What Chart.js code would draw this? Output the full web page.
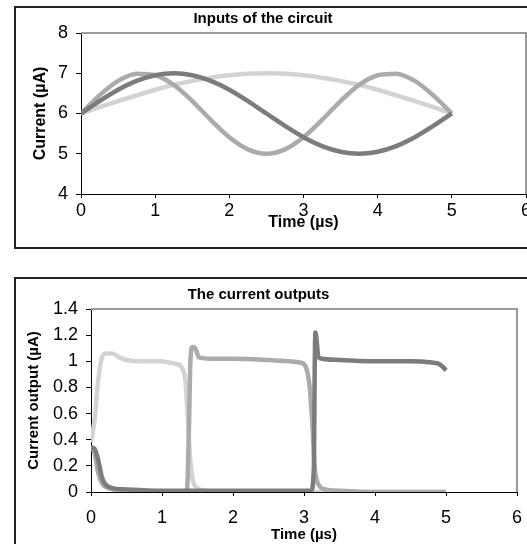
<!DOCTYPE html>
<html>
<head>
<meta charset="utf-8">
<script src="https://cdn.jsdelivr.net/npm/chart.js@4/dist/chart.umd.min.js"></script>
<style>
  html, body { margin: 0; padding: 0; background: #fff; overflow: hidden; width: 527px; height: 544px; }
  .box { position: absolute; border: 2px solid #222; background: #fff; }
  canvas { position: absolute; left: 0; }
</style>
</head>
<body>
<div class="box" style="left:14px; top:6px; width:560px; height:239px;"></div>
<div class="box" style="left:14px; top:277px; width:560px; height:300px;"></div>
<canvas id="inputs" width="560" height="250" style="top:0px"></canvas>
<canvas id="outputs" width="560" height="282" style="top:262px"></canvas>
<script>
// top chart: the three input currents
const timeIn = [0, 0.25, 0.5, 0.75, 1, 1.25, 1.5, 1.75, 2, 2.25, 2.5, 2.75, 3, 3.25, 3.5, 3.75, 4, 4.25, 4.5, 4.75, 5];
const darkIn = [6, 6.31, 6.59, 6.81, 6.95, 7, 6.95, 6.81, 6.59, 6.31, 6, 5.69, 5.41, 5.19, 5.05, 5, 5.05, 5.19, 5.41, 5.69, 6];
const midIn = [6, 6.45, 6.81, 6.99, 6.95, 6.71, 6.31, 5.84, 5.41, 5.11, 5, 5.11, 5.41, 5.84, 6.31, 6.71, 6.95, 6.99, 6.81, 6.45, 6];
const lightIn = [6, 6.16, 6.31, 6.45, 6.59, 6.71, 6.81, 6.89, 6.95, 6.99, 7, 6.99, 6.95, 6.89, 6.81, 6.71, 6.59, 6.45, 6.31, 6.16, 6];

// bottom chart: the current outputs
const tLightOut = [0, 0.05, 0.1, 0.15, 0.2, 0.3, 0.4, 0.5, 0.7, 1.0, 1.1, 1.2, 1.28, 1.33, 1.36, 1.39, 1.43, 1.5, 1.6, 2, 3, 4, 5];
const lightOut = [0.38, 0.55, 0.85, 1.02, 1.06, 1.06, 1.03, 1.01, 1.0, 1.0, 0.99, 0.98, 0.95, 0.85, 0.6, 0.3, 0.1, 0.03, 0.01, 0, 0, 0, 0];
const tMidOut = [0, 0.05, 0.1, 0.15, 0.2, 0.3, 0.5, 1.0, 1.35, 1.38, 1.4, 1.43, 1.47, 1.52, 1.7, 2.0, 2.5, 2.8, 2.95, 3.03, 3.08, 3.12, 3.15, 3.2, 3.3, 3.5, 4, 5];
const midOut = [0.35, 0.3, 0.15, 0.07, 0.04, 0.02, 0.01, 0, 0, 0.5, 1.0, 1.11, 1.1, 1.03, 1.02, 1.02, 1.01, 1.0, 0.99, 0.95, 0.8, 0.5, 0.2, 0.06, 0.02, 0.01, 0, 0];
const tDarkOut = [0, 0.05, 0.1, 0.15, 0.2, 0.3, 0.5, 1.0, 1.4, 3.1, 3.14, 3.15, 3.16, 3.18, 3.2, 3.25, 3.5, 4.0, 4.5, 4.8, 4.9, 4.95, 5.0];
const darkOut = [0.34, 0.33, 0.25, 0.12, 0.06, 0.03, 0.02, 0.01, 0.01, 0.01, 0.2, 0.9, 1.22, 1.15, 1.04, 1.02, 1.01, 1.0, 1.0, 0.99, 0.98, 0.96, 0.93];

const xTicks = [0, 1, 2, 3, 4, 5, 6];
const yTicksIn = [4, 5, 6, 7, 8];
const yTicksOut = [0, 0.2, 0.4, 0.6, 0.8, 1, 1.2, 1.4];

const FONT = "'Liberation Sans', Arial, sans-serif";
const DARK = '#7c7c7c', MID = '#ababab', LIGHT = '#d3d3d3';

function pts(xs, ys) {
    return xs.map((x, i) => ({ x: x, y: ys[i] }));
}

function line(data, color) {
    return {
        data: data,
        borderColor: color,
        borderWidth: 4.5,
        pointRadius: 0,
        showLine: true,
        cubicInterpolationMode: 'monotone'
    };
}

// gray top and right edges of the plot area, like the Excel frame
const frame = {
    id: 'frame',
    beforeDatasetsDraw(chart) {
        const a = chart.chartArea, ctx = chart.ctx;
        ctx.save();
        ctx.strokeStyle = '#9a9a9a';
        ctx.lineWidth = 2;
        ctx.beginPath();
        ctx.moveTo(a.left, a.top);
        ctx.lineTo(a.right, a.top);
        ctx.lineTo(a.right, a.bottom);
        ctx.stroke();
        ctx.restore();
    }
};

function makeChart(id, opt) {
    new Chart(document.getElementById(id), {
        type: 'scatter',
        data: { datasets: opt.datasets },
        options: {
            responsive: false,
            animation: false,
            devicePixelRatio: 1,
            layout: { padding: { left: 0, top: 0, right: opt.padRight, bottom: 0 } },
            plugins: {
                legend: { display: false },
                tooltip: { enabled: false },
                title: {
                    display: true,
                    text: opt.title,
                    color: '#000',
                    font: { family: FONT, size: 15, weight: 'bold' },
                    padding: opt.titlePad
                }
            },
            scales: {
                x: {
                    type: 'linear',
                    min: 0, max: 6,
                    afterBuildTicks: s => { s.ticks = xTicks.map(v => ({ value: v })); },
                    afterFit: s => { s.height = opt.xHeight; },
                    grid: { drawOnChartArea: false, tickLength: 4, color: '#000' },
                    border: { color: '#000', width: 1 },
                    ticks: { color: '#000', font: { family: FONT, size: 18 }, padding: opt.xTickPad, maxRotation: 0 },
                    title: {
                        display: true, text: 'Time (µs)', color: '#000',
                        font: { family: FONT, size: opt.axisFont, weight: 'bold' },
                        padding: { top: 0, bottom: opt.xTitlePad }
                    }
                },
                y: {
                    min: opt.yTicks[0], max: opt.yTicks[opt.yTicks.length - 1],
                    afterBuildTicks: s => { s.ticks = opt.yTicks.map(v => ({ value: v })); },
                    afterFit: s => { s.width = opt.yWidth; },
                    grid: { drawOnChartArea: false, tickLength: 5, color: '#000' },
                    border: { color: '#000', width: 1 },
                    ticks: { color: '#000', font: { family: FONT, size: 18 }, padding: 8, callback: v => String(+v.toFixed(1)) },
                    title: {
                        display: true, text: opt.yTitle, color: '#000',
                        font: { family: FONT, size: opt.axisFont, weight: 'bold' },
                        padding: { top: opt.yTitlePad, bottom: 0 }
                    }
                }
            }
        },
        plugins: [frame]
    });
}

makeChart('inputs', {
    title: 'Inputs of the circuit',
    titlePad: { top: 10, bottom: 5 },
    padRight: 34,
    xHeight: 56,
    xTickPad: 2,
    xTitlePad: 18,
    yWidth: 81,
    yTitlePad: 31,
    axisFont: 16,
    yTitle: 'Current (µA)',
    yTicks: yTicksIn,
    datasets: [
        line(pts(timeIn, darkIn), DARK),
        line(pts(timeIn, midIn), MID),
        line(pts(timeIn, lightIn), LIGHT)
    ]
});

makeChart('outputs', {
    title: 'The current outputs',
    titlePad: { top: 24, bottom: 5 },
    padRight: 43,
    xHeight: 52,
    xTickPad: 11,
    xTitlePad: 0,
    yWidth: 91,
    yTitlePad: 25,
    axisFont: 15,
    yTitle: 'Current output (µA)',
    yTicks: yTicksOut,
    datasets: [
        line(pts(tDarkOut, darkOut), DARK),
        line(pts(tMidOut, midOut), MID),
        line(pts(tLightOut, lightOut), LIGHT)
    ]
});
</script>
</body>
</html>
